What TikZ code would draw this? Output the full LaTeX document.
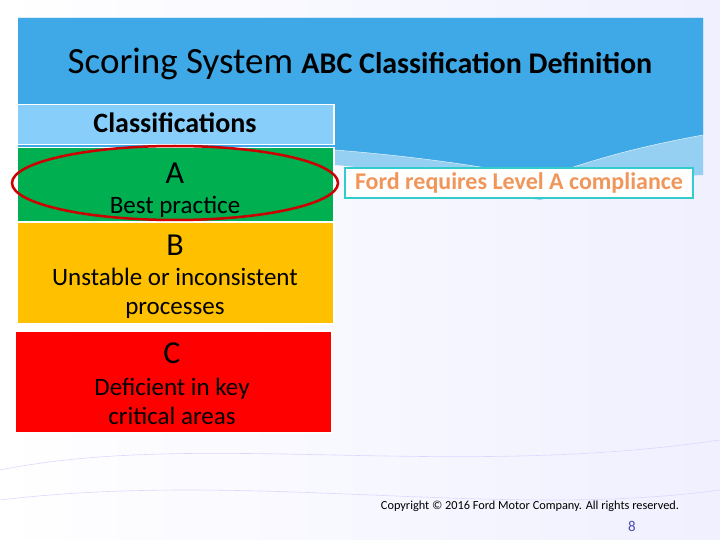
\documentclass[tikz,border=0pt]{standalone}
\usepackage{fontspec}
\setmainfont{Carlito}
\definecolor{skyhead}{HTML}{3FA9E8}
\definecolor{paleblue}{HTML}{87CEFA}
\definecolor{gradeA}{HTML}{00B050}
\definecolor{gradeB}{HTML}{FFC000}
\definecolor{gradeC}{HTML}{FF0000}
\definecolor{fordorange}{HTML}{F0965A}
\definecolor{notecyan}{HTML}{33CCCC}
\begin{document}
\begin{tikzpicture}[x=1pt,y=-1pt,
  classbox/.style={draw=white,line width=1.5pt,minimum width=317pt,anchor=north west,inner sep=0pt}]
  \useasboundingbox (0,0) rectangle (720,540);
  \fill[left color=white,right color=blue!6] (0,0) rectangle (720,540);
  % header band
  \fill[skyhead!55] (18,18) -- (703,18) -- (703,175) .. controls (620,178) and (580,190) .. (540,200)
    .. controls (480,190) and (400,170) .. (335,165) -- (18,160) -- cycle;
  \fill[skyhead] (18,18) -- (703,18) -- (703,135) .. controls (620,150) and (580,165) .. (540,178)
    .. controls (480,165) and (400,155) .. (335,150) -- (18,150) -- cycle;
  \draw[white,thin] (335,150) .. controls (400,155) and (480,165) .. (540,178)
    .. controls (580,165) and (620,150) .. (703,135);
  \draw[blue!15,line width=0.6pt] (0,470) .. controls (200,430) and (450,480) .. (720,440);
  \draw[blue!15,line width=0.6pt] (0,500) .. controls (250,470) and (500,520) .. (720,490);
  \node[font=\fontsize{37}{37}\selectfont] (title) at (360,64)
    {Scoring System {\fontsize{30}{30}\selectfont\bfseries ABC Classification Definition}};
  % classification column
  \node[classbox,fill=paleblue,minimum height=40pt] (cls) at (16,104) {};
  \node[font=\fontsize{28}{28}\selectfont\bfseries] (clstext) at (175,123) {Classifications};
  \node[classbox,fill=gradeA,minimum height=74pt] (boxA) at (16,147) {};
  \node[font=\fontsize{32}{32}\selectfont] (lblA) at (175,173) {A};
  \node[font=\fontsize{25}{25}\selectfont] (txtA) at (175,207) {Best practice};
  \node[classbox,fill=gradeB,minimum height=101pt] (boxB) at (16,222) {};
  \node[font=\fontsize{32}{32}\selectfont] (lblB) at (175,245) {B};
  \node[font=\fontsize{25}{29}\selectfont,align=center] (txtB) at (175,293)
    {Unstable or inconsistent\\processes};
  \node[classbox,fill=gradeC,minimum height=102pt] (boxC) at (14,330) {};
  \node[font=\fontsize{32}{32}\selectfont] (lblC) at (172,353) {C};
  \node[font=\fontsize{25}{29}\selectfont,align=center] (txtC) at (172,401)
    {Deficient in key\\critical areas};
  \draw[red!80!black,line width=2.5pt] (175,183) ellipse (163 and 37);
  % note
  \node[draw=notecyan,line width=2.5pt,fill=white,minimum width=348pt,minimum height=30pt,
    text=fordorange,font=\fontsize{24}{24}\selectfont\bfseries] (note) at (519,183)
    {Ford requires Level A compliance};
  \node[font=\fontsize{12.3}{12}\selectfont] (copy) at (530,506)
    {Copyright © 2016 Ford Motor Company. All rights reserved.};
  \node[text=blue!40!gray,font=\fontsize{15}{15}\selectfont] (page) at (632,526) {8};
\end{tikzpicture}
\end{document}
